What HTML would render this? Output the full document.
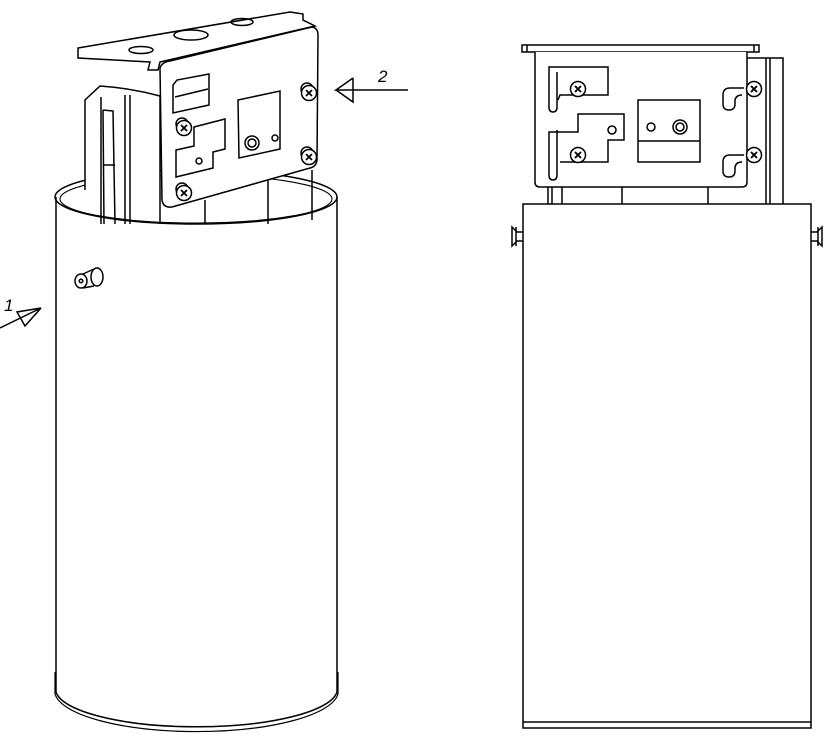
<!DOCTYPE html>
<html><head><style>html,body{margin:0;padding:0;background:#fff;width:831px;height:741px;overflow:hidden}</style></head>
<body>
<svg width="831" height="741" viewBox="0 0 831 741" xmlns="http://www.w3.org/2000/svg" fill="none" stroke="#000" stroke-width="1.5" font-family="Liberation Sans, sans-serif">
<!-- LEFT CYLINDER -->
<path d="M56 197 L56 692 A141 38 0 0 0 337 692 L337 197"/>
<path d="M55 672 L55 694 A142 41 0 0 0 338 694 L338 672" stroke-width="1.2"/>
<!-- back half of rim -->
<path d="M55 197 A141 27 0 0 1 337 197"/>
<path d="M60 199 A136 24 0 0 1 332 199" stroke-width="1.1"/>
<!-- knob -->
<ellipse cx="81" cy="281" rx="6" ry="7"/><circle cx="81" cy="281" r="1.8"/>
<ellipse cx="97" cy="277" rx="6" ry="9"/><path d="M83 274 L94 269 M83 288 L94 286"/>
<!-- label 1 -->
<path d="M0 328 L41 308 L17 312 L25 326 L41 308"/>
<text x="4" y="311" font-size="17" font-style="italic" fill="#000" stroke="none">1</text>
<!-- bracket side (left) -->
<path d="M85 100 L100 86 Q130 88 160 96 L160 224 L85 224 Z" fill="#fff" stroke="none"/>
<path d="M85 190 L85 100 L100 86 Q130 88 160 96 L160 224"/>
<path d="M101 97 L101 224 M130 95 L130 224 M125 95 L125 224"/>
<path d="M103 110 L113 111 L115 224 M103 110 L104 224 M104 165 L115 165"/>
<!-- cylinder inner lines behind bracket -->
<path d="M205 200 L205 224 M268 180 L268 224 M312 170 L312 220"/>
<!-- top plate -->
<path d="M78 48 L290 12 L303 14 L303 20 L315 26 L160 62 L158 70 L148 70 L150 62 L78 58 Z" fill="#fff"/>
<ellipse cx="191" cy="35" rx="17" ry="5"/>
<ellipse cx="141" cy="50" rx="12" ry="3.5"/>
<ellipse cx="242" cy="22" rx="11" ry="3.5"/>
<!-- front face -->
<path d="M160 68 Q162 62 170 61 L312 27 Q318 28 318 35 L317 160 Q316 167 310 168 L172 207 Q163 208 162 200 Z" fill="#fff"/>
<!-- front half of rim -->
<path d="M55 197 A141 27 0 0 0 337 197"/>
<path d="M60 199 A136 24 0 0 0 332 199" stroke-width="1.1"/>
<!-- upper slot -->
<path d="M173 85 L177 80 L209 74 L209 105 L173 113 Z M175 97 L208 89"/>
<!-- step cutout -->
<path d="M176 150 L194 146 L194 127 L225 119 L225 149 L213 152 L213 168 L176 177 Z"/>
<circle cx="199" cy="161" r="3"/>
<!-- window -->
<path d="M238 100 L280 91 L280 149 L239 158 Z"/>
<circle cx="275" cy="138" r="3"/>
<circle cx="252" cy="143" r="7"/><circle cx="252" cy="143" r="4"/>
<!-- screws -->
<g fill="#fff">
<circle cx="182" cy="124" r="6"/><circle cx="182" cy="189" r="6"/>
<circle cx="307" cy="89" r="6"/><circle cx="307" cy="153" r="6"/>
<circle cx="184" cy="128" r="7.5"/><circle cx="184" cy="193" r="7.5"/>
<circle cx="309" cy="93" r="7.5"/><circle cx="309" cy="157" r="7.5"/>
</g>
<g stroke-width="1.8">
<path d="M181 125 l6 6 M187 125 l-6 6 M181 190 l6 6 M187 190 l-6 6 M306 90 l6 6 M312 90 l-6 6 M306 154 l6 6 M312 154 l-6 6"/>
</g>
<!-- label 2 -->
<path d="M408 90 L336 90 L353 78 M336 90 L353 102 L353 78"/>
<text x="378" y="82" font-size="17" font-style="italic" fill="#000" stroke="none">2</text>

<!-- RIGHT VIEW -->
<rect x="523" y="204" width="288" height="524"/>
<path d="M523 722 L811 722"/>
<!-- knobs -->
<path d="M523 232 L517 232 L512 227 L512 246 L517 241 L523 241 M516 227 L516 246"/>
<path d="M811 232 L817 232 L822 227 L822 246 L817 241 L811 241 M818 227 L818 246"/>
<!-- side part -->
<path d="M747 58 L783 58 L783 204 M766 58 L766 204 M770 58 L770 204"/>
<path d="M548 187 L548 204 M552 187 L552 204 M562 187 L562 204 M622 187 L622 204 M708 187 L708 204"/>
<!-- top plate -->
<rect x="522" y="45" width="237" height="7"/>
<path d="M527 45 L527 52 M754 45 L754 52"/>
<!-- face -->
<path d="M535 52 L535 182 Q535 187 540 187 L742 187 Q747 187 747 182 L747 52" fill="#fff"/>
<!-- left slots -->
<path d="M557 72 L557 107 Q557 112 553 112 Q549 112 549 107 L549 67 L608 67 L608 95 L560 95 L558 100"/>
<path d="M557 130 L557 175 Q557 180 553 180 Q549 180 549 175 L549 132 L578 132 L578 114 L624 114 L624 140 L608 140 L608 162 L560 162"/>
<circle cx="612" cy="130" r="4"/>
<!-- center block -->
<rect x="638" y="100" width="62" height="62"/>
<path d="M638 141 L700 141"/>
<circle cx="651" cy="127" r="4"/>
<circle cx="680" cy="127" r="7"/><circle cx="680" cy="127" r="4"/>
<!-- right hooks -->
<path d="M744 88 L730 88 Q723 88 723 95 L723 104 Q723 110 729 110 Q735 110 735 104 L735 100 Q736 95 742 95"/>
<path d="M744 155 L730 155 Q723 155 723 162 L723 171 Q723 177 729 177 Q735 177 735 171 L735 167 Q736 162 742 162"/>
<g fill="#fff">
<circle cx="578" cy="89" r="7.5"/><circle cx="578" cy="155" r="7.5"/>
<circle cx="754" cy="89" r="7.5"/><circle cx="754" cy="155" r="7.5"/>
</g>
<path stroke-width="1.9" d="M575 86 l6 6 M581 86 l-6 6 M575 152 l6 6 M581 152 l-6 6 M751 86 l6 6 M757 86 l-6 6 M751 152 l6 6 M757 152 l-6 6"/>
</svg>
</body></html>
